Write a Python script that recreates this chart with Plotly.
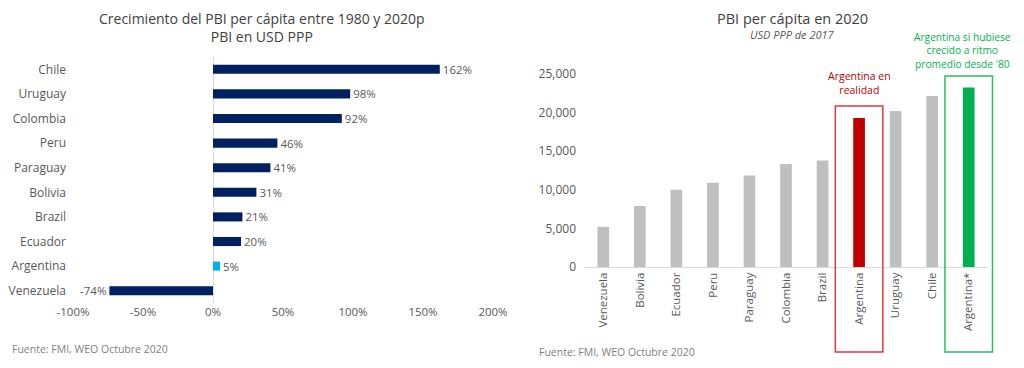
import plotly.graph_objects as go

# Left chart data
growth_countries = ["Chile", "Uruguay", "Colombia", "Peru", "Paraguay", "Bolivia",
                    "Brazil", "Ecuador", "Argentina", "Venezuela"]
growth_values = [162, 98, 92, 46, 41, 31, 21, 20, 5, -74]
growth_xticks = [-100, -50, 0, 50, 100, 150, 200]

# Right chart data
gdp_countries = ["Venezuela", "Bolivia", "Ecuador", "Peru", "Paraguay", "Colombia",
                 "Brazil", "Argentina", "Uruguay", "Chile", "Argentina*"]
gdp_values = [5200, 7900, 10000, 10900, 11850, 13350, 13800, 19300, 20200, 22150, 23250]
gdp_yticks = [0, 5000, 10000, 15000, 20000, 25000]

FONT = "Open Sans"
GRAY = "#595959"
OFF = 8  # page body margin
W, H = 1024 - 2 * OFF, 368 - 2 * OFF

def px(x):
    return (x - OFF) / W

def py(y):
    return 1 - (y - OFF) / H

navy, lightblue = "#002060", "#00b0f0"
left_colors = [lightblue if c == "Argentina" else navy for c in growth_countries]
right_colors = []
for c in gdp_countries:
    if c == "Argentina":
        right_colors.append("#c00000")
    elif c == "Argentina*":
        right_colors.append("#00b050")
    else:
        right_colors.append("#bfbfbf")

X2_DOM = [px(585), px(987)]
X2_RANGE = [-0.5, len(gdp_countries) - 0.5]

def cat_to_paper(v):
    f = (v - X2_RANGE[0]) / (X2_RANGE[1] - X2_RANGE[0])
    return X2_DOM[0] + f * (X2_DOM[1] - X2_DOM[0])

fig = go.Figure()
fig.add_trace(go.Bar(
    x=growth_values, y=growth_countries, orientation="h",
    marker=dict(color=left_colors, line=dict(width=0)), width=0.37,
    text=[f"{v}%" for v in growth_values], textposition="outside",
    constraintext="none",
    textfont=dict(family=FONT, size=11.5, color=GRAY), cliponaxis=False,
    xaxis="x", yaxis="y", showlegend=False))
fig.add_trace(go.Bar(
    x=gdp_countries, y=gdp_values,
    marker=dict(color=right_colors, line=dict(width=0)), width=0.32,
    xaxis="x2", yaxis="y2", showlegend=False))

fig.update_layout(
    width=W, height=H, margin=dict(l=0, r=0, t=0, b=0, autoexpand=False),
    paper_bgcolor="white", plot_bgcolor="white",
    font=dict(family=FONT, color=GRAY, size=11),
    xaxis=dict(domain=[px(73), px(493)], range=[-100, 200], tickvals=growth_xticks,
               ticktext=[f"{v}%" for v in growth_xticks], showgrid=False,
               zeroline=True, zerolinecolor="#d9d9d9", zerolinewidth=1,
               showline=False, ticks="", tickfont=dict(size=11.5, color=GRAY),
               anchor="y", automargin=False),
    yaxis=dict(domain=[py(303), py(57)], categoryorder="array",
               categoryarray=growth_countries[::-1], autorange=False, range=[-0.5, 9.5],
               showgrid=False, showline=False, ticks="", ticklabelstandoff=6,
               tickfont=dict(size=12, color=GRAY), anchor="x", automargin=False),
    xaxis2=dict(domain=X2_DOM, range=X2_RANGE, showgrid=False,
                showline=True, linecolor="#d9d9d9", linewidth=1, ticks="",
                tickangle=-90, tickfont=dict(size=11.5, color=GRAY), anchor="y2",
                automargin=False),
    yaxis2=dict(domain=[py(267), py(74)], range=[0, 25000], tickvals=gdp_yticks,
                tickformat=",", showgrid=False, showline=False, zeroline=False,
                ticks="", ticklabelstandoff=8, tickfont=dict(size=12, color=GRAY),
                anchor="x2", automargin=False),
)

ia = gdp_countries.index("Argentina")
ib = gdp_countries.index("Argentina*")

annotations = [
    dict(text="Crecimiento del PBI per cápita entre 1980 y 2020p<br>PBI en USD PPP",
         x=px(262), y=py(28), xref="paper", yref="paper", showarrow=False,
         font=dict(size=14, color="#404040"), xanchor="center", yanchor="middle"),
    dict(text="Fuente: FMI, WEO Octubre 2020", x=px(10), y=py(349), xref="paper",
         yref="paper", showarrow=False, xanchor="left", yanchor="middle",
         font=dict(size=10.5, color="#7f7f7f")),
    dict(text="PBI per cápita en 2020", x=px(792), y=py(18.5), xref="paper", yref="paper",
         showarrow=False, font=dict(size=14.5, color="#404040"), xanchor="center",
         yanchor="middle"),
    dict(text="<i>USD PPP de 2017</i>", x=px(792), y=py(35), xref="paper", yref="paper",
         showarrow=False, font=dict(size=11, color="#595959"), xanchor="center",
         yanchor="middle"),
    dict(text="Fuente: FMI, WEO Octubre 2020", x=px(537), y=py(352), xref="paper",
         yref="paper", showarrow=False, xanchor="left", yanchor="middle",
         font=dict(size=10.5, color="#7f7f7f")),
    dict(text="Argentina en<br>realidad", x=cat_to_paper(ia), xref="paper",
         y=py(83), yref="paper", showarrow=False,
         font=dict(size=10.5, color="#c00000"), xanchor="center", yanchor="middle"),
    dict(text="Argentina si hubiese<br>crecido a ritmo<br>promedio desde '80",
         x=px(962), xref="paper", y=py(50), yref="paper",
         showarrow=False, font=dict(size=10.2, color="#00b050"), xanchor="center",
         yanchor="middle"),
]
fig.update_layout(annotations=annotations)

fig.add_shape(type="rect", xref="paper", yref="paper",
              x0=cat_to_paper(ia - 0.65), x1=cat_to_paper(ia + 0.65),
              y0=py(352), y1=py(106), line=dict(color="#e0393e", width=1.5))
fig.add_shape(type="rect", xref="paper", yref="paper",
              x0=cat_to_paper(ib - 0.65), x1=cat_to_paper(ib + 0.65),
              y0=py(352), y1=py(76), line=dict(color="#2dbd5f", width=1.5))

fig.write_html("out.html")
